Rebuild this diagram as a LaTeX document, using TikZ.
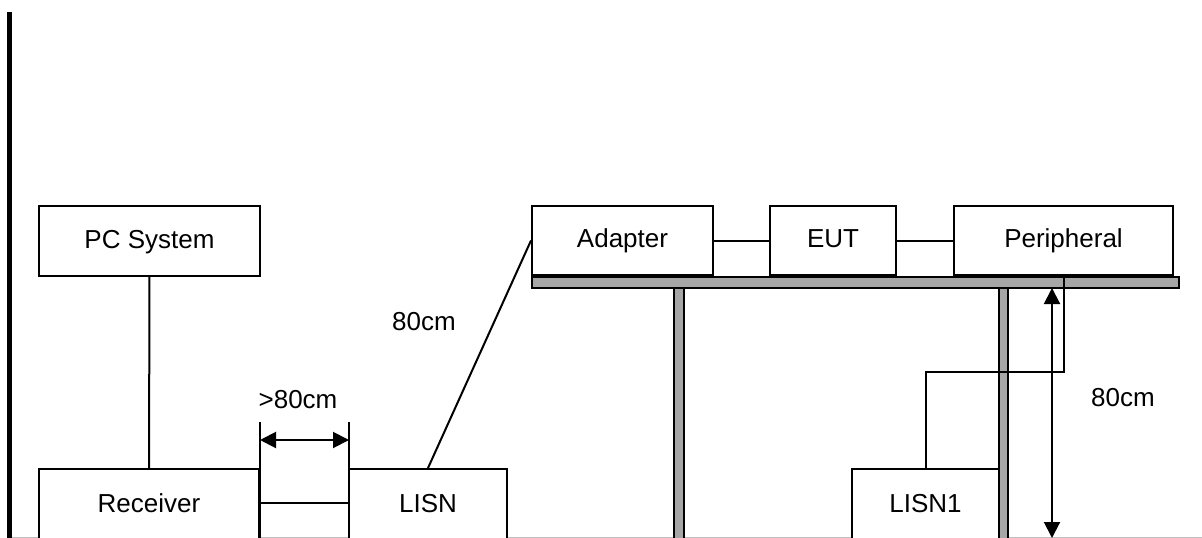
\documentclass[tikz,border=0pt]{standalone}
\usepackage{fontspec}
\setmainfont{Liberation Sans}
\usetikzlibrary{arrows.meta}
\begin{document}
\begin{tikzpicture}[x=1pt,y=-1pt,
  every node/.style={font=\fontsize{26}{30}\selectfont},
  unit/.style={draw, line width=2pt, inner sep=0pt, text height=19pt, text depth=5pt,
    minimum height=70pt, fill=white},
  wire/.style={line width=2pt},
  tabletop/.style={draw=black, line width=1.8pt, fill=black!35},
  dim/.style={line width=2pt, {Triangle[length=16pt,width=16pt]}-{Triangle[length=16pt,width=16pt]}},
  lbl/.style={inner sep=0pt}]
\useasboundingbox (0,0) rectangle (1202,538);

% floor line and wall
\draw[black!25, line width=1pt] (12,537.5) -- (1202,537.5);
\draw[line width=5pt] (9.5,12) -- (9.5,545);

% table
\draw[tabletop] (532,277) rectangle (1179,288);
\draw[tabletop] (674,288) rectangle (684,548);
\draw[tabletop] (999,288) rectangle (1008,548);

% units
\node[unit, minimum width=221pt] (pc) at (149.5,241) {PC System};
\node[unit, minimum width=220pt, minimum height=72pt] (rx) at (149,505) {Receiver};
\node[unit, minimum width=158pt, minimum height=72pt] (lisn) at (428,505) {LISN};
\node[unit, minimum width=181pt, minimum height=69pt] (adapter) at (622.5,240.5) {Adapter};
\node[unit, minimum width=126pt, minimum height=69pt] (eut) at (833,240.5) {EUT};
\node[unit, minimum width=219pt, minimum height=69pt] (per) at (1063.5,240.5) {Peripheral};
\node[unit, minimum width=147pt, minimum height=72pt] (lisn1) at (925.5,505) {LISN1};

% cabling
\coordinate (rxline) at (0,503);
\coordinate (bend) at (0,372);
\draw[wire] (pc) -- (rx);
\draw[wire] (rx.east |- rxline) -- (lisn.west |- rxline);
\draw[wire] (lisn.north) -- (adapter.west);
\draw[wire] (adapter) -- (eut);
\draw[wire] (eut) -- (per);
\draw[wire] (per.south) -- (per.south |- bend) -| (lisn1.north);

% spacing receiver / LISN
\coordinate (extA) at (260,422);
\coordinate (extB) at (349,422);
\coordinate (extAb) at (260,545);
\coordinate (extBb) at (349,545);
\draw[wire] (extA) -- (extAb);
\draw[wire] (extB) -- (extBb);
\coordinate (dimA) at (260,440);
\coordinate (dimB) at (349,440);
\draw[dim] (dimA) -- (dimB);
\node[lbl] (gt80) at (298,400) {>80cm};

% cable length label
\node[lbl] (len80) at (424,322) {80cm};

% table height
\coordinate (hTop) at (1052,288);
\coordinate (hBot) at (1052,538);
\draw[dim] (hTop) -- (hBot);
\node[lbl] (h80) at (1123,398) {80cm};
\end{tikzpicture}
\end{document}
